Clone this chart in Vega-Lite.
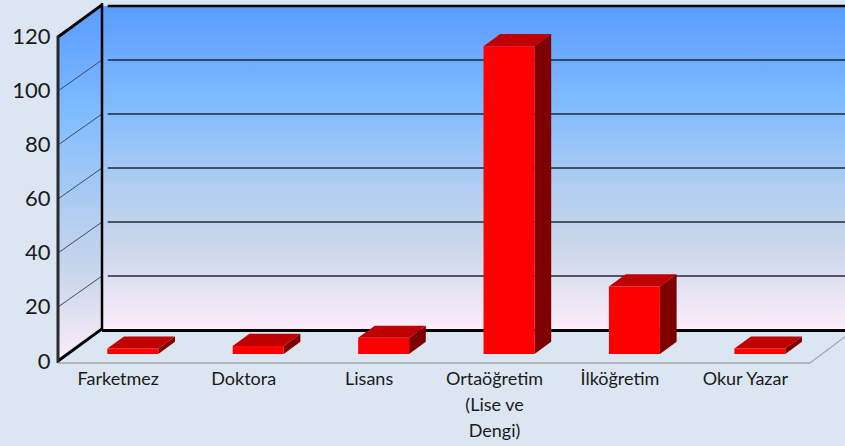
{
"$schema":"https://vega.github.io/schema/vega-lite/v6.json",
"width":787,"height":446,"autosize":{"type":"none"},
"padding":{"left":58,"top":0,"right":0,"bottom":0},
"background":"#DCE6F2",
"view":{"stroke":null},
"config":{"font":"Lato"},
"resolve":{"axis":{"x":"independent","y":"independent"}},
"datasets":{
"bars":[{"category":"Farketmez","slot":0,"value":2},{"category":"Doktora","slot":1,"value":3},{"category":"Lisans","slot":2,"value":6},{"category":"Ortaöğretim (Lise ve Dengi)","slot":3,"value":114},{"category":"İlköğretim","slot":4,"value":25},{"category":"Okur Yazar","slot":5,"value":2}],
"levels":[{"level":0},{"level":20},{"level":40},{"level":60},{"level":80},{"level":100},{"level":120}]
},
"layer":[
{"data":{"name":"levels"},"transform":[{"filter":"datum.level==120"}],
 "mark":{"type":"rect","fill":{"gradient":"linear","x1":0,"y1":0,"x2":0,"y2":1,"stops":[{"offset":0,"color":"#5A9BFF"},{"offset":0.3,"color":"#7FBCFF"},{"offset":0.58,"color":"#B5CEF0"},{"offset":0.72,"color":"#C6D5EA"},{"offset":1,"color":"#FDEDFB"}]}},
 "encoding":{
  "x":{"datum":-0.2456,"type":"quantitative","scale":{"domain":[-0.5965,5.679],"nice":false,"zero":false},"axis":{"title":null,"values":[0,1,2,3,4,5],"domain":false,"ticks":false,"grid":false,"orient":"bottom","offset":-76,"labelOffset":-15,"labelFont":"Lato","labelFontSize":18,"labelColor":"#1a1a1a","labelBaseline":"top","labelPadding":0,"labelLineHeight":26,"labelOverlap":false,"labelBound":false,"labelFlush":false,"labelExpr":"split(['Farketmez','Doktora','Lisans','Ortaöğretim|(Lise ve|Dengi)','İlköğretim','Okur Yazar'][datum.value],'|')"}},
  "x2":{"datum":5.679},
  "y":{"datum":131.48,"type":"quantitative","scale":{"domain":[-31.48,133.7],"nice":false,"zero":false},"axis":{"title":null,"orient":"left","values":[0,20,40,60,80,100,120],"domain":false,"ticks":false,"grid":false,"labelFont":"Lato","labelFontSize":22,"labelColor":"#1a1a1a","labelPadding":8}},
  "y2":{"datum":11.48}
 }},
{"data":{"name":"levels"},"transform":[{"filter":"datum.level==120"},{"calculate":"[0,1]","as":"depth"},{"flatten":["depth"]},{"calculate":"-0.5965+datum.depth*0.3509","as":"px"},{"calculate":"datum.level+datum.depth*11.48","as":"top"},{"calculate":"datum.depth*11.48","as":"bottom"}],
 "mark":{"type":"area","orient":"vertical","fill":{"gradient":"linear","x1":0,"y1":0,"x2":0,"y2":1,"stops":[{"offset":0,"color":"#5A9BFF"},{"offset":0.3,"color":"#7FBCFF"},{"offset":0.6,"color":"#B5CEF0"},{"offset":0.74,"color":"#C6D5EA"},{"offset":1,"color":"#FDEDFB"}]}},
 "encoding":{"x":{"field":"px","type":"quantitative","scale":{"domain":[-0.5965,5.679],"nice":false,"zero":false},"axis":null},"y":{"field":"top","type":"quantitative","scale":{"domain":[-31.48,133.7],"nice":false,"zero":false},"axis":null},"y2":{"field":"bottom"}}},
{"data":{"name":"levels"},"transform":[{"filter":"datum.level>0 && datum.level<120"},{"calculate":"datum.level+11.48","as":"back"}],
 "mark":{"type":"rule","stroke":"#1E2A3A","strokeWidth":1.5},
 "encoding":{"x":{"datum":-0.2,"type":"quantitative","scale":{"domain":[-0.5965,5.679],"nice":false,"zero":false},"axis":null},"x2":{"datum":5.679},"y":{"field":"back","type":"quantitative","scale":{"domain":[-31.48,133.7],"nice":false,"zero":false},"axis":null}}},
{"data":{"name":"levels"},"transform":[{"filter":"datum.level>0 && datum.level<120"},{"calculate":"[0,1]","as":"depth"},{"flatten":["depth"]},{"calculate":"-0.5965+datum.depth*0.3509","as":"px"},{"calculate":"datum.level+datum.depth*11.48","as":"py"}],
 "mark":{"type":"line","stroke":"#3A4E66","strokeWidth":1},
 "encoding":{"x":{"field":"px","type":"quantitative","scale":{"domain":[-0.5965,5.679],"nice":false,"zero":false},"axis":null},"y":{"field":"py","type":"quantitative","scale":{"domain":[-31.48,133.7],"nice":false,"zero":false},"axis":null},"detail":{"field":"level"}}},
{"data":{"name":"levels"},"transform":[{"filter":"datum.level==0 || datum.level==120"},{"calculate":"[0,1]","as":"depth"},{"flatten":["depth"]},{"calculate":"-0.5965+datum.depth*0.3509","as":"px"},{"calculate":"datum.level+datum.depth*11.9","as":"py"}],
 "mark":{"type":"line","stroke":"#000000","strokeWidth":3},
 "encoding":{"x":{"field":"px","type":"quantitative","scale":{"domain":[-0.5965,5.679],"nice":false,"zero":false},"axis":null},"y":{"field":"py","type":"quantitative","scale":{"domain":[-31.48,133.7],"nice":false,"zero":false},"axis":null},"detail":{"field":"level"}}},
{"data":{"name":"levels"},"transform":[{"filter":"datum.level==120"}],
 "mark":{"type":"rule","stroke":"#000000","strokeWidth":2.5},
 "encoding":{"x":{"datum":-0.2,"type":"quantitative","scale":{"domain":[-0.5965,5.679],"nice":false,"zero":false},"axis":null},"x2":{"datum":5.679},"y":{"datum":131.48,"type":"quantitative","scale":{"domain":[-31.48,133.7],"nice":false,"zero":false},"axis":null}}},
{"data":{"name":"levels"},"transform":[{"filter":"datum.level==0"}],
 "mark":{"type":"rule","stroke":"#000000","strokeWidth":3},
 "encoding":{"x":{"datum":-0.2456,"type":"quantitative","scale":{"domain":[-0.5965,5.679],"nice":false,"zero":false},"axis":null},"x2":{"datum":5.679},"y":{"datum":11.3,"type":"quantitative","scale":{"domain":[-31.48,133.7],"nice":false,"zero":false},"axis":null}}},
{"data":{"name":"levels"},"transform":[{"filter":"datum.level==0"}],
 "mark":{"type":"rule","stroke":"#000000","strokeWidth":2.5},
 "encoding":{"x":{"datum":-0.2456,"type":"quantitative","scale":{"domain":[-0.5965,5.679],"nice":false,"zero":false},"axis":null},"y":{"datum":132.6,"type":"quantitative","scale":{"domain":[-31.48,133.7],"nice":false,"zero":false},"axis":null},"y2":{"datum":11.3}}},
{"data":{"name":"levels"},"transform":[{"filter":"datum.level==0"}],
 "mark":{"type":"rule","stroke":"#2A2A2E","strokeWidth":3},
 "encoding":{"x":{"datum":-0.5965,"type":"quantitative","scale":{"domain":[-0.5965,5.679],"nice":false,"zero":false},"axis":null},"y":{"datum":120.5,"type":"quantitative","scale":{"domain":[-31.48,133.7],"nice":false,"zero":false},"axis":null},"y2":{"datum":-0.7}}},
{"data":{"name":"levels"},"transform":[{"filter":"datum.level==0"}],
 "mark":{"type":"rule","stroke":"#A3A6AC","strokeWidth":1.5},
 "encoding":{"x":{"datum":-0.5965,"type":"quantitative","scale":{"domain":[-0.5965,5.679],"nice":false,"zero":false},"axis":null},"x2":{"datum":5.4},"y":{"datum":-0.74,"type":"quantitative","scale":{"domain":[-31.48,133.7],"nice":false,"zero":false},"axis":null}}},
{"data":{"name":"levels"},"transform":[{"filter":"datum.level==0"},{"calculate":"[0,1]","as":"depth"},{"flatten":["depth"]},{"calculate":"5.4+datum.depth*0.3509","as":"px"},{"calculate":"-0.74+datum.depth*12.2","as":"py"}],
 "mark":{"type":"line","stroke":"#A3A6AC","strokeWidth":1.2},
 "encoding":{"x":{"field":"px","type":"quantitative","scale":{"domain":[-0.5965,5.679],"nice":false,"zero":false},"axis":null},"y":{"field":"py","type":"quantitative","scale":{"domain":[-31.48,133.7],"nice":false,"zero":false},"axis":null}}},
{"data":{"name":"bars"},"transform":[{"calculate":"[0,1,2,3]","as":"k"},{"flatten":["k"]},
  {"calculate":"datum.value+2.6","as":"t"},
  {"calculate":"datum.k==0?datum.slot-0.2033:datum.k==1?datum.slot-0.2033+0.133:datum.k==2?datum.slot+0.2033:datum.slot+0.2033+0.133","as":"px"},
  {"calculate":"datum.k==0?datum.t:datum.t+4.5","as":"upper"},
  {"calculate":"datum.k==3?datum.t+4.5:datum.t","as":"lower"}],
 "mark":{"type":"area","orient":"vertical","fill":"#BF0000","line":false},
 "encoding":{"x":{"field":"px","type":"quantitative","scale":{"domain":[-0.5965,5.679],"nice":false,"zero":false},"axis":null},"y":{"field":"upper","type":"quantitative","scale":{"domain":[-31.48,133.7],"nice":false,"zero":false},"axis":null},"y2":{"field":"lower"},"detail":{"field":"category"}}},
{"data":{"name":"bars"},"transform":[{"calculate":"[0,1]","as":"k"},{"flatten":["k"]},
  {"calculate":"datum.slot+0.2033+datum.k*0.133","as":"px"},
  {"calculate":"datum.value+2.6+datum.k*4.5","as":"upper"},
  {"calculate":"2.6+datum.k*4.5","as":"lower"}],
 "mark":{"type":"area","orient":"vertical","fill":"#7F0000"},
 "encoding":{"x":{"field":"px","type":"quantitative","scale":{"domain":[-0.5965,5.679],"nice":false,"zero":false},"axis":null},"y":{"field":"upper","type":"quantitative","scale":{"domain":[-31.48,133.7],"nice":false,"zero":false},"axis":null},"y2":{"field":"lower"},"detail":{"field":"category"}}},
{"data":{"name":"bars"},"transform":[{"calculate":"datum.slot-0.2033","as":"x0"},{"calculate":"datum.slot+0.2033","as":"x1"},{"calculate":"datum.value+2.6","as":"t"},{"calculate":"2.6","as":"base"}],
 "mark":{"type":"rect","fill":"#FF0000"},
 "encoding":{"x":{"field":"x0","type":"quantitative","scale":{"domain":[-0.5965,5.679],"nice":false,"zero":false},"axis":null},"x2":{"field":"x1"},"y":{"field":"t","type":"quantitative","scale":{"domain":[-31.48,133.7],"nice":false,"zero":false},"axis":null},"y2":{"field":"base"},"tooltip":{"field":"category"}}}
]
}
